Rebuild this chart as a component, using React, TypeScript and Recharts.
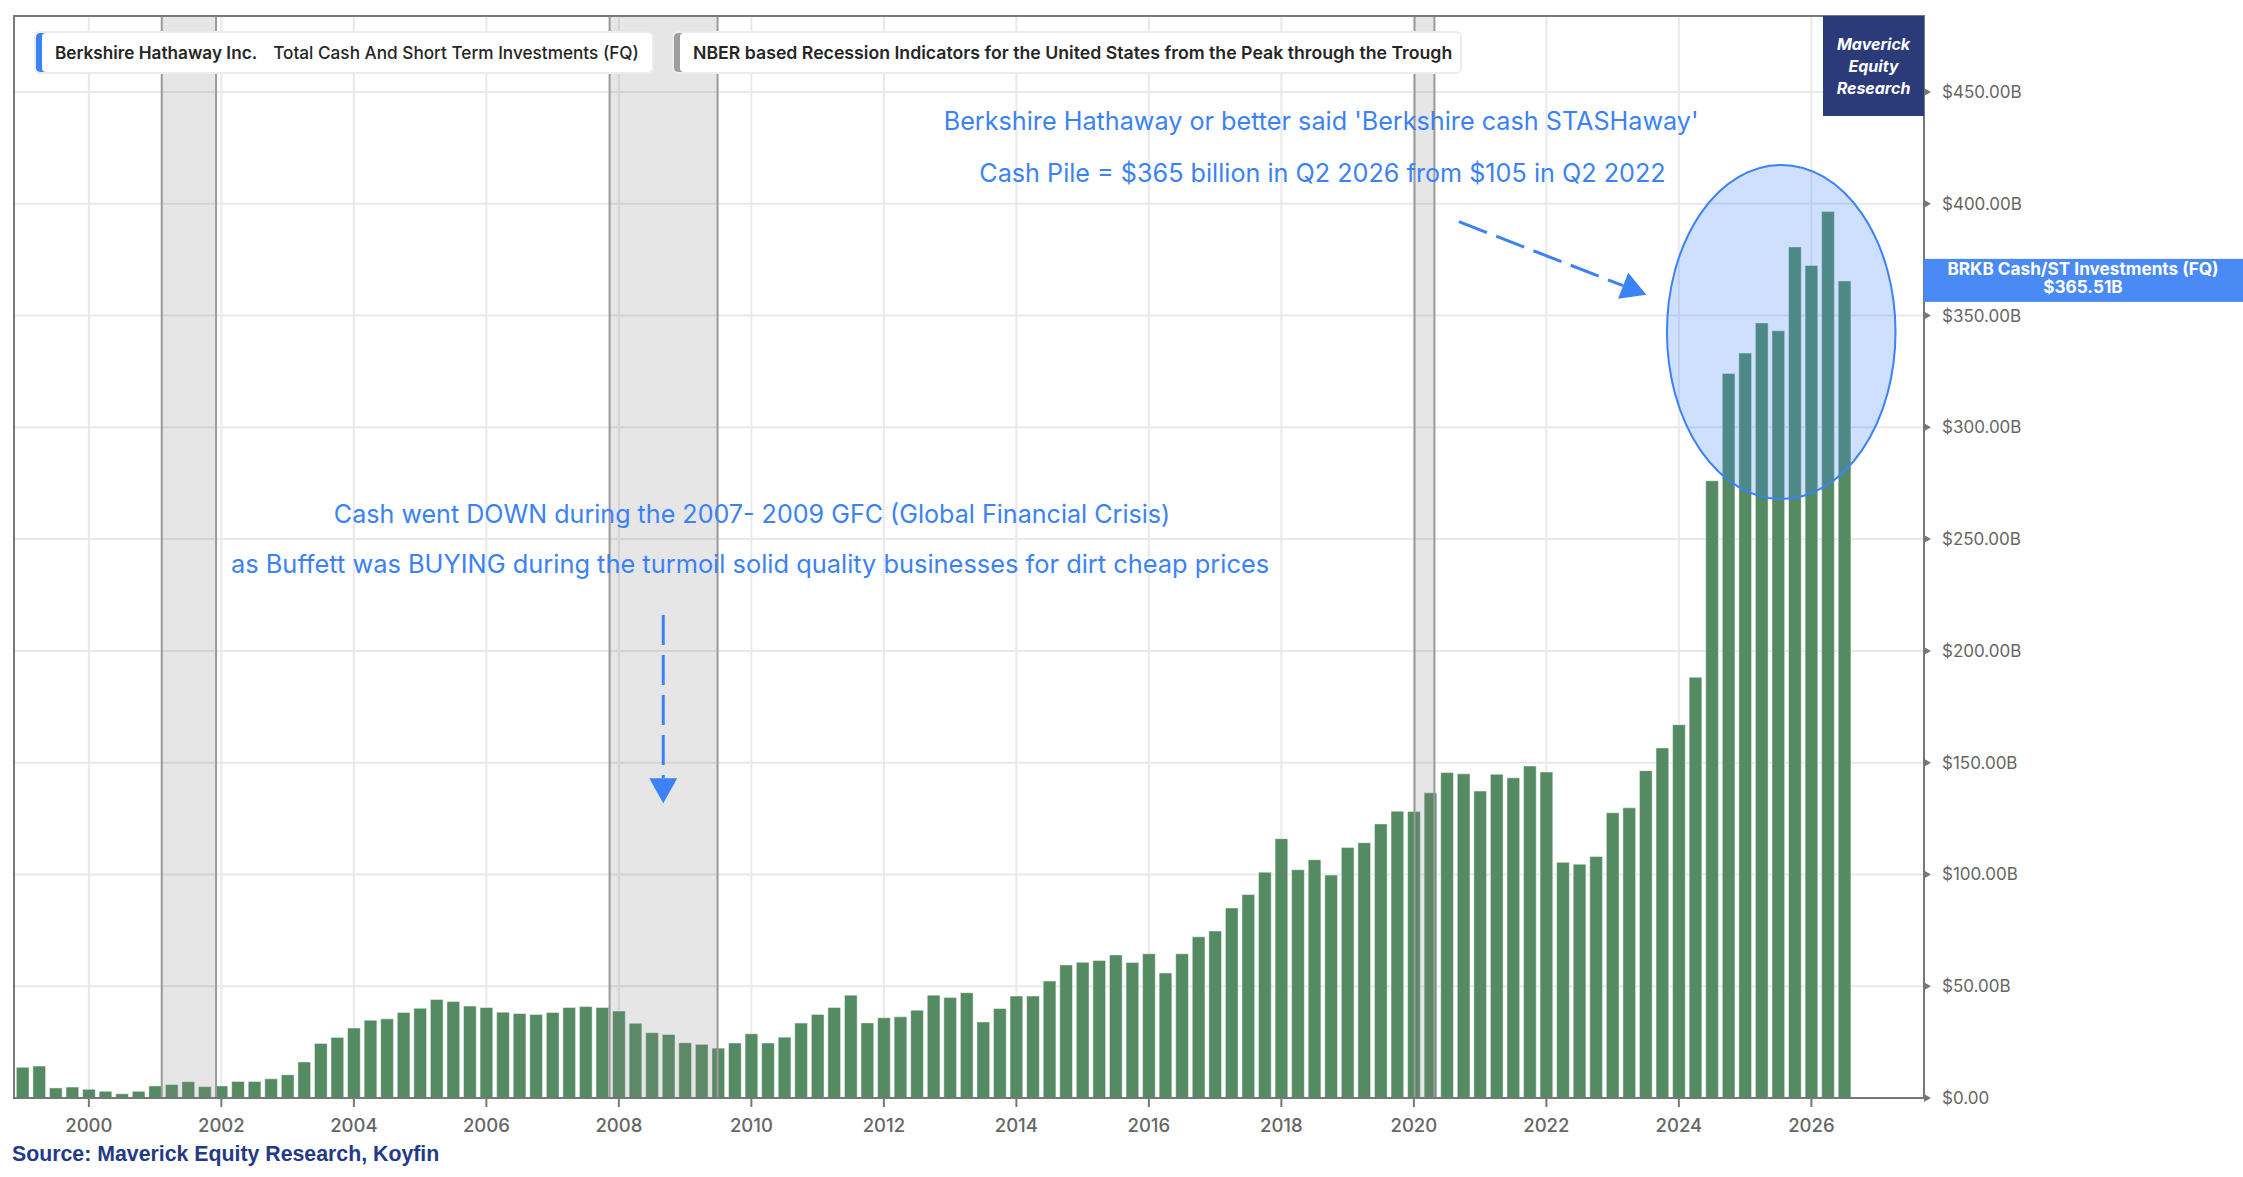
import React from 'react'
import { BarChart, Bar, XAxis, YAxis, CartesianGrid, ReferenceArea, ReferenceLine, ReferenceDot } from 'recharts'

const FONT = 'Inter, Roboto, "Noto Sans", Arial, sans-serif'
const BLUE = '#3b82f6'

// fiscal years, four quarters each (bars sit at year + quarter/4)
const YEARS = [1999, 2000, 2001, 2002, 2003, 2004, 2005, 2006, 2007, 2008, 2009, 2010, 2011, 2012, 2013,
  2014, 2015, 2016, 2017, 2018, 2019, 2020, 2021, 2022, 2023, 2024, 2025, 2026]

// total cash and short term investments, $ billions, by quarter
const CASH_BN = [
  [13.7, 14.3, 4.5, 4.9],
  [3.9, 3.0, 1.9, 3.0],
  [5.4, 6.0, 7.3, 5.1],
  [5.4, 7.4, 7.4, 8.6],
  [10.4, 16.1, 24.4, 27.1],
  [31.3, 34.8, 35.4, 38.3],
  [40.1, 44.1, 43.2, 41.1],
  [40.5, 38.4, 37.8, 37.4],
  [38.3, 40.5, 40.9, 40.5],
  [38.9, 33.4, 29.2, 28.4],
  [24.7, 24.0, 22.3, 24.6],
  [28.7, 24.6, 27.2, 33.5],
  [37.4, 40.5, 46.0, 33.6],
  [35.9, 36.3, 39.3, 46.0],
  [45.0, 47.1, 34.0, 40.0],
  [45.6, 45.6, 52.3, 59.5],
  [60.7, 61.5, 64.0, 60.6],
  [64.5, 55.9, 64.5, 72.1],
  [74.7, 85.0, 91.0, 101.0],
  [116.0, 102.1, 106.6, 99.7],
  [112.0, 114.2, 122.6, 128.3],
  [128.2, 136.5, 145.6, 145.0],
  [137.3, 144.8, 143.2, 148.5],
  [145.8, 105.4, 104.6, 108.0],
  [127.6, 129.8, 146.4, 156.6],
  [167.0, 188.2, 276.1, 324.1],
  [333.2, 346.7, 343.2, 380.7],
  [372.4, 396.5, 365.51],
]

const YEAR_TICKS = [2000, 2002, 2004, 2006, 2008, 2010, 2012, 2014, 2016, 2018, 2020, 2022, 2024, 2026]
const VALUE_TICKS = [0, 50, 100, 150, 200, 250, 300, 350, 400, 450]

// NBER recessions, peak -> trough
const RECESSIONS = [
  [2001.1, 2001.92],
  [2007.86, 2009.49],
  [2020.01, 2020.31],
]

const X_MIN = 1998.87
const X_MAX = 2027.7
const Y_MAX = 484

const NOTE_TOP = [
  "Berkshire Hathaway or better said 'Berkshire cash STASHaway'",
  'Cash Pile = $365 billion in Q2 2026 from $105 in Q2 2022',
]
const NOTE_GFC = [
  'Cash went DOWN during the 2007- 2009 GFC (Global Financial Crisis)',
  'as Buffett was BUYING during the turmoil solid quality businesses for dirt cheap prices',
]

const data = YEARS.flatMap((y, yi) => CASH_BN[yi].map((v, q) => ({ t: y + q / 4, cash: v })))
const last = data[data.length - 1]

const fmtValue = (v: number) => (v === 0 ? '$0.00' : `$${v.toFixed(2)}B`)

const YTick = ({ x, y, payload }: any) => (
  <g>
    <polygon points={`${x},${y - 4} ${x + 7},${y} ${x},${y + 4}`} fill="#777" />
    <text x={x + 18} y={y} dy="0.35em" fill="#666" fontSize={17} fontFamily={FONT}>
      {fmtValue(payload.value)}
    </text>
  </g>
)

const Arrow = (p: any) => {
  const { x1, y1, x2, y2 } = p
  const a = Math.atan2(y2 - y1, x2 - x1)
  const bx = x2 - Math.cos(a) * 25
  const by = y2 - Math.sin(a) * 25
  const nx = -Math.sin(a) * 14
  const ny = Math.cos(a) * 14
  return (
    <g>
      <line x1={x1} y1={y1} x2={bx} y2={by} stroke={BLUE} strokeWidth={3} strokeDasharray="30 10" />
      <polygon points={`${x2},${y2} ${bx + nx},${by + ny} ${bx - nx},${by - ny}`} fill={BLUE} />
    </g>
  )
}

const Ellipse = (p: any) => (
  <ellipse
    cx={p.x + p.width / 2}
    cy={p.y + p.height / 2}
    rx={p.width / 2}
    ry={Math.abs(p.height) / 2}
    fill={BLUE}
    fillOpacity={0.25}
    stroke={BLUE}
    strokeWidth={2}
  />
)

const note = (text: string, size: number) => (p: any) => (
  <text x={p.cx} y={p.cy} textAnchor="middle" fill={BLUE} fontSize={size} fontFamily={FONT}>
    {text}
  </text>
)

const LastTag = (p: any) => (
  <g>
    <rect x={p.cx} y={p.cy - 22} width={319} height={43} fill="#4a8af4" />
    <text x={p.cx + 159} y={p.cy - 6} textAnchor="middle" fill="#fff" fontSize={17.2} fontWeight={700} fontFamily={FONT}>
      BRKB Cash/ST Investments (FQ)
    </text>
    <text x={p.cx + 159} y={p.cy + 12} textAnchor="middle" fill="#fff" fontSize={17.2} fontWeight={700} fontFamily={FONT}>
      {`$${last.cash.toFixed(2)}B`}
    </text>
  </g>
)

const legendBox = (left: number, width: number, accent: string, size: number): React.CSSProperties => ({
  position: 'absolute', left, top: 31, width, height: 43, boxSizing: 'border-box',
  background: '#fff', border: '2px solid #ececec', borderRadius: 6,
  display: 'flex', alignItems: 'center', paddingLeft: 19,
  fontSize: size, fontWeight: 600, color: '#262626', whiteSpace: 'nowrap',
  boxShadow: `inset 6px 0 0 ${accent}`,
})

export default function App() {
  return (
    <div style={{ position: 'absolute', left: 0, top: 0, width: 2243, height: 1177, background: '#fff', overflow: 'hidden', fontFamily: FONT }}>
      <BarChart width={2243} height={1177} data={data} margin={{ top: 16, right: 219, bottom: 39, left: 14 }}>
        <CartesianGrid stroke="#e9e9e9" strokeWidth={2} />
        <XAxis
          type="number"
          dataKey="t"
          domain={[X_MIN, X_MAX]}
          allowDataOverflow
          ticks={YEAR_TICKS}
          interval={0}
          height={40}
          tickSize={9}
          tickMargin={12}
          axisLine={{ stroke: '#777', strokeWidth: 2 }}
          tickLine={{ stroke: '#777', strokeWidth: 2 }}
          tick={{ fill: '#666', fontSize: 18.5, fontWeight: 500, fontFamily: FONT }}
        />
        <YAxis
          orientation="right"
          domain={[0, Y_MAX]}
          allowDataOverflow
          ticks={VALUE_TICKS}
          interval={0}
          width={100}
          tickSize={0}
          tickMargin={0}
          tickLine={false}
          axisLine={{ stroke: '#777', strokeWidth: 2 }}
          tick={<YTick />}
        />
        <Bar dataKey="cash" fill="#558b62" stroke="rgba(255,255,255,0.45)" strokeWidth={1} barSize={12.7} isAnimationActive={false} />
        {RECESSIONS.map(([a, b]) => (
          <ReferenceArea key={a} x1={a} x2={b} fill="#808080" fillOpacity={0.2} stroke="#9a9a9a" strokeWidth={2} zIndex={400} />
        ))}
        <ReferenceArea x1={X_MIN} x2={X_MAX} y1={0} y2={Y_MAX} fill="none" stroke="#7a7a7a" strokeWidth={2} zIndex={400} />
        <ReferenceArea x1={2023.82} x2={2027.27} y1={267.9} y2={417.4} shape={Ellipse} zIndex={450} />
        <ReferenceLine segment={[{ x: 2008.67, y: 216.1 }, { x: 2008.67, y: 131.8 }]} shape={Arrow} zIndex={700} />
        <ReferenceLine segment={[{ x: 2020.68, y: 392.0 }, { x: 2023.51, y: 359.3 }]} shape={Arrow} zIndex={700} />
        <ReferenceDot x={2018.6} y={432.8} r={0} shape={note(NOTE_TOP[0], 25.2)} zIndex={800} />
        <ReferenceDot x={2018.62} y={409.7} r={0} shape={note(NOTE_TOP[1], 25.2)} zIndex={800} />
        <ReferenceDot x={2010.01} y={257.4} r={0} shape={note(NOTE_GFC[0], 25.1)} zIndex={800} />
        <ReferenceDot x={2009.98} y={235.0} r={0} shape={note(NOTE_GFC[1], 25.4)} zIndex={800} />
        <ReferenceDot x={X_MAX} y={last.cash} r={0} ifOverflow="visible" shape={LastTag} zIndex={800} />
      </BarChart>

      <div style={legendBox(34, 620, '#3b82f6', 17.2)}>
        <span>Berkshire Hathaway Inc.</span>
        <span style={{ marginLeft: 16, fontWeight: 500 }}>Total Cash And Short Term Investments (FQ)</span>
      </div>
      <div style={legendBox(672, 790, '#9e9e9e', 17.7)}>
        <span>NBER based Recession Indicators for the United States from the Peak through the Trough</span>
      </div>

      <div style={{
        position: 'absolute', left: 1823, top: 16, width: 101, height: 100, background: '#2b3a78',
        color: '#fff', fontWeight: 700, fontStyle: 'italic', fontSize: 16, lineHeight: '22px',
        display: 'flex', flexDirection: 'column', alignItems: 'center', justifyContent: 'center',
      }}>
        <span>Maverick</span>
        <span>Equity</span>
        <span>Research</span>
      </div>

      <div style={{
        position: 'absolute', left: 12, top: 1144, fontSize: 21.3, lineHeight: '21px', fontWeight: 700,
        color: '#233a86', fontFamily: '"Liberation Sans", Arial, sans-serif',
      }}>
        Source: Maverick Equity Research, Koyfin
      </div>
    </div>
  )
}
